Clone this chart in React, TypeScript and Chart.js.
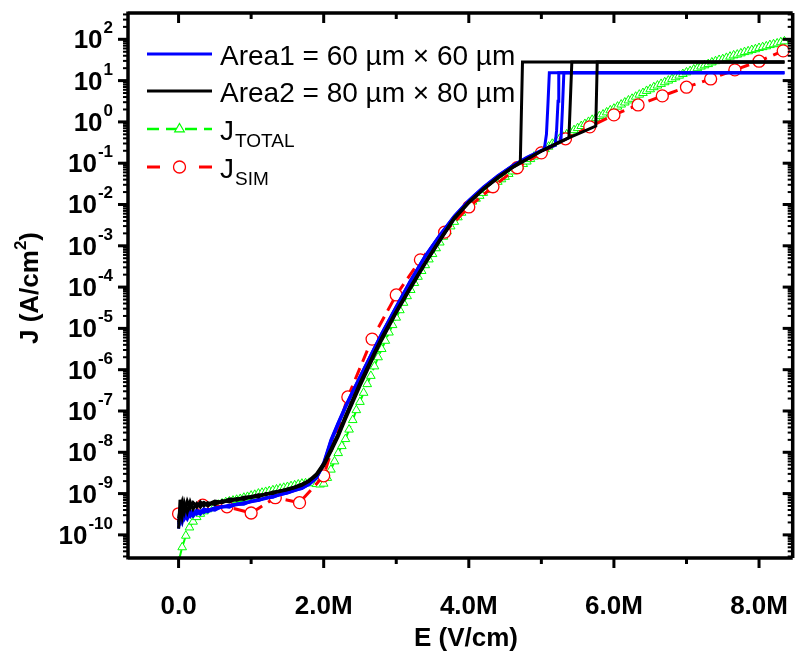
import React, { useEffect, useRef } from "react";
import { Chart, registerables } from "chart.js";

Chart.register(...registerables);

// ---------- DATA (E in MV/cm, J given as log10 of A/cm^2) ----------
const SERIES_NAMES = ["Area1 = 60 \u00b5m \u00d7 60 \u00b5m", "Area2 = 80 \u00b5m \u00d7 80 \u00b5m", "J", "J"];
const SERIES_SUBS = ["", "", "TOTAL", "SIM"];

const X_TICK_VALUES = [0, 2, 4, 6, 8];
const X_TICK_LABELS = ["0.0", "2.0M", "4.0M", "6.0M", "8.0M"];
const X_MINOR_VALUES = [1, 3, 5, 7];
const Y_TICK_EXPONENTS = [2, 1, 0, -1, -2, -3, -4, -5, -6, -7, -8, -9, -10];

const X_TITLE = "E (V/cm)";
const Y_TITLE = "J (A/cm";
const Y_TITLE_SUP = "2";

// shared field grid of the measured curves (MV/cm)
const E_MEAS = [0, 0.02, 0.05, 0.08, 0.12, 0.16, 0.2, 0.25, 0.3, 0.35, 0.4, 0.5, 0.6, 0.7, 0.8, 0.9, 1.0, 1.1, 1.2, 1.3, 1.4, 1.5, 1.6, 1.7, 1.8, 1.9, 2.0, 2.1, 2.2, 2.3, 2.4, 2.5, 2.6, 2.7, 2.8, 3.0, 3.2, 3.4, 3.6, 3.8, 4.0, 4.2, 4.4, 4.6, 4.8, 5.0, 5.2, 5.4, 5.6];

// Area1 (blue) devices
const A1_LOG = [-9.85, -9.55, -9.7, -9.5, -9.62, -9.48, -9.55, -9.44, -9.5, -9.4, -9.44, -9.36, -9.33, -9.3, -9.27, -9.24, -9.2, -9.16, -9.12, -9.08, -9.03, -8.98, -8.93, -8.87, -8.78, -8.62, -8.3, -7.75, -7.33, -6.92, -6.55, -6.2, -5.85, -5.5, -5.15, -4.5, -3.86, -3.26, -2.76, -2.3, -1.92, -1.6, -1.32, -1.08, -0.88, -0.7];
const A1_TAIL_E = [5.04, 5.07, 5.09, 5.11, 8.35];
const A1_TAIL_LOG = [-0.67, -0.3, 0.4, 1.19, 1.19];

const A2_LOG = [-9.6, -9.68, -9.45, -9.62, -9.5, -9.56, -9.45, -9.5, -9.42, -9.46, -9.38, -9.4, -9.31, -9.33, -9.25, -9.26, -9.18, -9.17, -9.1, -9.09, -9.02, -8.99, -8.92, -8.88, -8.77, -8.63, -8.28, -7.72, -7.3, -6.9, -6.53, -6.18, -5.83, -5.48, -5.13, -4.48, -3.84, -3.25, -2.75, -2.29, -1.91, -1.59, -1.31, -1.07, -0.87, -0.7];
const A2_TAIL_E = [5.1, 5.19, 5.21, 5.23, 5.24, 8.35];
const A2_TAIL_LOG = [-0.63, -0.57, -0.2, 0.5, 1.19, 1.19];

const A3_LOG = [-9.75, -9.5, -9.58, -9.44, -9.54, -9.42, -9.48, -9.4, -9.45, -9.37, -9.41, -9.34, -9.32, -9.28, -9.26, -9.22, -9.19, -9.14, -9.11, -9.06, -9.02, -8.96, -8.91, -8.85, -8.76, -8.6, -8.25, -7.7, -7.28, -6.88, -6.52, -6.17, -5.82, -5.47, -5.12, -4.47, -3.83, -3.24, -2.74, -2.28, -1.9, -1.58, -1.3, -1.06, -0.86, -0.69, -0.53];
const A3_TAIL_E = [5.27, 5.29, 5.31, 8.35];
const A3_TAIL_LOG = [-0.46, 0.3, 1.19, 1.19];

// Area2 (black) devices
const B1_LOG = [-9.85, -9.15, -9.55, -9.22, -9.45, -9.2, -9.38, -9.24, -9.33, -9.22, -9.3, -9.2, -9.22, -9.15, -9.16, -9.1, -9.1, -9.05, -9.03, -8.98, -8.95, -8.91, -8.86, -8.8, -8.7, -8.55, -8.3, -7.95, -7.58, -7.15, -6.75, -6.35, -5.98, -5.6, -5.25, -4.6, -4.0, -3.42, -2.87, -2.33, -1.95, -1.63, -1.35, -1.1];
const B1_TAIL_E = [4.71, 4.74, 8.35];
const B1_TAIL_LOG = [-0.97, 1.45, 1.45];

const B2_LOG = [-9.6, -9.4, -9.2, -9.45, -9.18, -9.36, -9.22, -9.33, -9.2, -9.3, -9.22, -9.27, -9.17, -9.2, -9.12, -9.14, -9.07, -9.08, -9.0, -9.0, -8.93, -8.9, -8.85, -8.78, -8.68, -8.52, -8.27, -7.92, -7.55, -7.12, -6.72, -6.32, -5.95, -5.58, -5.22, -4.58, -3.98, -3.4, -2.85, -2.32, -1.94, -1.62, -1.34, -1.1, -0.9, -0.7, -0.53];
const B2_TAIL_E = [5.38, 5.42, 8.35];
const B2_TAIL_LOG = [-0.38, 1.45, 1.45];

const B3_LOG = [-9.7, -9.5, -9.3, -9.35, -9.25, -9.32, -9.22, -9.3, -9.24, -9.22, -9.26, -9.18, -9.21, -9.13, -9.14, -9.09, -9.07, -9.03, -9.02, -8.96, -8.94, -8.89, -8.84, -8.77, -8.69, -8.56, -8.33, -7.98, -7.62, -7.2, -6.8, -6.4, -6.02, -5.64, -5.28, -4.62, -4.02, -3.43, -2.88, -2.35, -1.96, -1.64, -1.36, -1.11, -0.91, -0.71, -0.54, -0.37, -0.22];
const B3_TAIL_E = [5.75, 5.77, 8.35];
const B3_TAIL_LOG = [-0.1, 1.45, 1.45];

// J_SIM (red circles)
const SIM_E = [0, 0.333, 0.667, 1.0, 1.333, 1.667, 2.0, 2.333, 2.667, 3.0, 3.333, 3.667, 4.0, 4.333, 4.667, 5.0, 5.333, 5.667, 6.0, 6.333, 6.667, 7.0, 7.333, 7.667, 8.0, 8.333];
const SIM_LOG = [-9.49, -9.28, -9.32, -9.47, -9.1, -9.22, -8.57, -6.66, -5.26, -4.19, -3.34, -2.67, -2.06, -1.57, -1.11, -0.75, -0.41, -0.12, 0.17, 0.41, 0.63, 0.84, 1.04, 1.26, 1.47, 1.72];

// J_TOTAL (green triangles)
const TOTAL_E = [
  0.0, 0.05, 0.1, 0.15, 0.2, 0.25, 0.3, 0.35, 0.4, 0.45, 0.5, 0.55, 0.6, 0.65, 0.7, 0.75, 0.8, 0.85, 0.9, 0.95,
  1.0, 1.05, 1.1, 1.15, 1.2, 1.25, 1.3, 1.35, 1.4, 1.45, 1.5, 1.55, 1.6, 1.65, 1.7, 1.75, 1.8, 1.85, 1.9, 1.95,
  2.0, 2.05, 2.1, 2.15, 2.2, 2.25, 2.3, 2.35, 2.4, 2.45, 2.5, 2.55, 2.6, 2.65, 2.7, 2.75, 2.8, 2.85, 2.9, 2.95,
  3.0, 3.05, 3.1, 3.15, 3.2, 3.25, 3.3, 3.35, 3.4, 3.45, 3.5, 3.55, 3.6, 3.65, 3.7, 3.75, 3.8, 3.85, 3.9, 3.95,
  4.0, 4.05, 4.1, 4.15, 4.2, 4.25, 4.3, 4.35, 4.4, 4.45, 4.5, 4.55, 4.6, 4.65, 4.7, 4.75, 4.8, 4.85, 4.9, 4.95,
  5.0, 5.05, 5.1, 5.15, 5.2, 5.25, 5.3, 5.35, 5.4, 5.45, 5.5, 5.55, 5.6, 5.65, 5.7, 5.75, 5.8, 5.85, 5.9, 5.95,
  6.0, 6.05, 6.1, 6.15, 6.2, 6.25, 6.3, 6.35, 6.4, 6.45, 6.5, 6.55, 6.6, 6.65, 6.7, 6.75, 6.8, 6.85, 6.9, 6.95,
  7.0, 7.05, 7.1, 7.15, 7.2, 7.25, 7.3, 7.35, 7.4, 7.45, 7.5, 7.55, 7.6, 7.65, 7.7, 7.75, 7.8, 7.85, 7.9, 7.95,
  8.0, 8.05, 8.1, 8.15, 8.2, 8.25, 8.3, 8.35,
];
const TOTAL_LOG = [
  -10.65, -10.3, -10.02, -9.82, -9.68, -9.57, -9.49, -9.43, -9.38, -9.34, -9.3, -9.27, -9.24, -9.21, -9.19, -9.17, -9.15, -9.13, -9.1, -9.08,
  -9.05, -9.03, -9.0, -8.98, -8.96, -8.94, -8.92, -8.9, -8.88, -8.86, -8.84, -8.82, -8.8, -8.78, -8.76, -8.75, -8.74, -8.75, -8.77, -8.78,
  -8.76, -8.62, -8.42, -8.22, -8.02, -7.85, -7.68, -7.45, -7.22, -6.98, -6.78, -6.56, -6.35, -6.15, -5.92, -5.7, -5.5, -5.3, -5.1, -4.92,
  -4.74, -4.56, -4.38, -4.22, -4.07, -3.9, -3.75, -3.61, -3.47, -3.33, -3.2, -3.06, -2.92, -2.78, -2.65, -2.53, -2.42, -2.31, -2.2, -2.1,
  -2.0, -1.93, -1.86, -1.79, -1.72, -1.65, -1.58, -1.52, -1.45, -1.39, -1.33, -1.26, -1.2, -1.14, -1.08, -1.02, -0.96, -0.9, -0.84, -0.78,
  -0.72, -0.66, -0.6, -0.53, -0.47, -0.41, -0.36, -0.3, -0.25, -0.2, -0.15, -0.1, -0.05, 0.0, 0.05, 0.09, 0.14, 0.18, 0.23, 0.28,
  0.32, 0.37, 0.42, 0.47, 0.52, 0.56, 0.61, 0.66, 0.7, 0.75, 0.79, 0.84, 0.88, 0.92, 0.96, 1.0, 1.04, 1.08, 1.12, 1.16,
  1.2, 1.23, 1.27, 1.3, 1.34, 1.37, 1.4, 1.44, 1.47, 1.5, 1.52, 1.55, 1.58, 1.61, 1.63, 1.66, 1.69, 1.71, 1.74, 1.76,
  1.79, 1.81, 1.83, 1.86, 1.88, 1.9, 1.93, 1.95,
];

// ---------- helpers ----------
const BLUE = "#0000ff";
const BLACK = "#000000";
const GREEN = "#00ff00";
const RED = "#ff0000";
const FONT = "'Liberation Sans', Arial, Helvetica, sans-serif";

function measured(logs: number[], tailE: number[], tailLog: number[]) {
  const pts = logs.map((v, i) => ({ x: E_MEAS[i], y: Math.pow(10, v) }));
  tailE.forEach((e, i) => pts.push({ x: e, y: Math.pow(10, tailLog[i]) }));
  return pts;
}
function pairs(es: number[], logs: number[]) {
  return es.map((e, i) => ({ x: e, y: Math.pow(10, logs[i]) }));
}

function drawSup(ctx: CanvasRenderingContext2D, base: string, sup: string, xRight: number, baseline: number, baseFont: string, supFont: string, rise: number) {
  ctx.font = supFont;
  const sw = ctx.measureText(sup).width;
  ctx.font = baseFont;
  const bw = ctx.measureText(base).width;
  ctx.textAlign = "left";
  ctx.textBaseline = "alphabetic";
  ctx.fillText(base, xRight - sw - bw - 1, baseline);
  ctx.font = supFont;
  ctx.fillText(sup, xRight - sw, baseline - rise);
}

const framePlugin = {
  id: "framePlugin",
  afterDatasetsDraw(chart: any) {
    const { ctx, chartArea: ca, scales } = chart;
    const xs = scales.x;
    const ys = scales.y;
    ctx.save();
    ctx.strokeStyle = "#000";
    ctx.fillStyle = "#000";
    ctx.setLineDash([]);

    const tick = (x1: number, y1: number, x2: number, y2: number, w: number) => {
      ctx.lineWidth = w;
      ctx.beginPath();
      ctx.moveTo(x1, y1);
      ctx.lineTo(x2, y2);
      ctx.stroke();
    };
    X_TICK_VALUES.forEach((v) => {
      const px = xs.getPixelForValue(v);
      tick(px, ca.bottom, px, ca.bottom + 10, 3);
      tick(px, ca.top, px, ca.top + 10, 3);
    });
    X_MINOR_VALUES.forEach((v) => {
      const px = xs.getPixelForValue(v);
      tick(px, ca.bottom, px, ca.bottom + 6, 3);
      tick(px, ca.top, px, ca.top + 6, 3);
    });
    for (let k = -11; k <= 2; k++) {
      for (let m = 1; m <= 9; m++) {
        const v = m * Math.pow(10, k);
        if (v < ys.min || v > ys.max) continue;
        const py = ys.getPixelForValue(v);
        const len = m === 1 ? 10 : 5;
        const w = m === 1 ? 3 : 2;
        tick(ca.left, py, ca.left - len, py, w);
        tick(ca.right, py, ca.right - len, py, w);
      }
    }

    // frame
    ctx.lineWidth = 3.5;
    ctx.beginPath();
    ctx.moveTo(ca.left, ca.top);
    ctx.lineTo(ca.right, ca.top);
    ctx.moveTo(ca.right, ca.top);
    ctx.lineTo(ca.right, ca.bottom);
    ctx.moveTo(ca.left, ca.bottom);
    ctx.lineTo(ca.right, ca.bottom);
    ctx.moveTo(ca.left, ca.top - 1.5);
    ctx.lineTo(ca.left, ca.bottom + 1.5);
    ctx.stroke();

    // tick labels
    const tickFont = `bold 26px ${FONT}`;
    const supFont = `bold 17px ${FONT}`;
    ctx.textBaseline = "alphabetic";
    X_TICK_VALUES.forEach((v, i) => {
      ctx.font = tickFont;
      ctx.textAlign = "center";
      ctx.fillText(X_TICK_LABELS[i], xs.getPixelForValue(v), ca.bottom + 56);
    });
    Y_TICK_EXPONENTS.forEach((k) => {
      const py = ys.getPixelForValue(Math.pow(10, k));
      drawSup(ctx, "10", String(k), 113, py + 9, tickFont, supFont, 15);
    });

    // axis titles
    ctx.font = tickFont;
    ctx.textAlign = "center";
    ctx.fillText(X_TITLE, 466, 646);

    ctx.save();
    ctx.translate(38, 288);
    ctx.rotate(-Math.PI / 2);
    ctx.font = tickFont;
    const w1 = ctx.measureText(Y_TITLE).width;
    const w3 = ctx.measureText(")").width;
    ctx.font = supFont;
    const w2 = ctx.measureText(Y_TITLE_SUP).width;
    const total = w1 + w2 + w3;
    ctx.textAlign = "left";
    ctx.font = tickFont;
    ctx.fillText(Y_TITLE, -total / 2, 0);
    ctx.font = supFont;
    ctx.fillText(Y_TITLE_SUP, -total / 2 + w1, -12);
    ctx.font = tickFont;
    ctx.fillText(")", -total / 2 + w1 + w2, 0);
    ctx.restore();

    // legend
    const rowsBase = [65, 102, 140, 178];
    const colors = [BLUE, BLACK, GREEN, RED];
    const lx1 = 147;
    const lx2 = 212;
    const mx = 179.5;
    rowsBase.forEach((b, i) => {
      const ly = b - 11;
      ctx.strokeStyle = colors[i];
      if (i < 2) {
        ctx.setLineDash([]);
        tick(lx1, ly, lx2, ly, 3);
      } else if (i === 2) {
        ctx.setLineDash([12, 7]);
        tick(lx1, ly, lx2, ly, 2.5);
        ctx.setLineDash([]);
        ctx.fillStyle = "#fff";
        ctx.lineWidth = 1.2;
        ctx.beginPath();
        ctx.moveTo(mx, ly - 5.5);
        ctx.lineTo(mx + 4.8, ly + 2.8);
        ctx.lineTo(mx - 4.8, ly + 2.8);
        ctx.closePath();
        ctx.fill();
        ctx.stroke();
      } else {
        ctx.setLineDash([13, 13]);
        tick(lx1, ly, lx2, ly, 3);
        ctx.setLineDash([]);
        ctx.fillStyle = "#fff";
        ctx.lineWidth = 1.3;
        ctx.beginPath();
        ctx.arc(mx, ly, 6, 0, Math.PI * 2);
        ctx.fill();
        ctx.stroke();
      }
      ctx.setLineDash([]);
      ctx.fillStyle = "#000";
      ctx.textAlign = "left";
      ctx.font = `28px ${FONT}`;
      ctx.fillText(SERIES_NAMES[i], 220, b);
      if (SERIES_SUBS[i]) {
        const jw = ctx.measureText(SERIES_NAMES[i]).width;
        ctx.font = `19px ${FONT}`;
        ctx.fillText(SERIES_SUBS[i], 220 + jw + 1, b + 7);
      }
    });

    ctx.restore();
  },
};

export default function App() {
  const canvasRef = useRef<HTMLCanvasElement | null>(null);

  useEffect(() => {
    const canvas = canvasRef.current;
    if (!canvas) return;
    const lineDs = (data: any[], color: string) => ({
      data,
      borderColor: color,
      backgroundColor: color,
      borderWidth: 3,
      pointRadius: 0,
      tension: 0,
      fill: false,
    });
    const chart = new Chart(canvas, {
      type: "line",
      data: {
        datasets: [
          lineDs(measured(B1_LOG, B1_TAIL_E, B1_TAIL_LOG), BLACK),
          lineDs(measured(B2_LOG, B2_TAIL_E, B2_TAIL_LOG), BLACK),
          lineDs(measured(B3_LOG, B3_TAIL_E, B3_TAIL_LOG), BLACK),
          lineDs(measured(A1_LOG, A1_TAIL_E, A1_TAIL_LOG), BLUE),
          lineDs(measured(A2_LOG, A2_TAIL_E, A2_TAIL_LOG), BLUE),
          lineDs(measured(A3_LOG, A3_TAIL_E, A3_TAIL_LOG), BLUE),
          {
            data: pairs(SIM_E, SIM_LOG),
            borderColor: RED,
            backgroundColor: "#ffffff",
            borderWidth: 3,
            borderDash: [12, 7],
            pointStyle: "circle",
            pointRadius: 6,
            pointBorderWidth: 1.3,
            pointBorderColor: RED,
            pointBackgroundColor: "#ffffff",
            tension: 0,
            fill: false,
          },
          {
            data: pairs(TOTAL_E, TOTAL_LOG),
            borderColor: GREEN,
            backgroundColor: "#ffffff",
            borderWidth: 2,
            borderDash: [12, 6],
            pointStyle: "triangle",
            pointRadius: 5,
            pointBorderWidth: 1,
            pointBorderColor: GREEN,
            pointBackgroundColor: "#ffffff",
            tension: 0,
            fill: false,
          },
        ] as any,
      },
      options: {
        responsive: false,
        maintainAspectRatio: false,
        animation: false,
        events: [],
        layout: { padding: { left: 0, right: 1, top: 13, bottom: 0 } },
        plugins: { legend: { display: false }, tooltip: { enabled: false }, title: { display: false } },
        scales: {
          x: {
            type: "linear",
            min: -0.697,
            max: 8.464,
            ticks: { display: false },
            grid: { display: false },
            border: { display: false },
            afterFit: (s: any) => {
              s.height = 94;
            },
          },
          y: {
            type: "logarithmic",
            min: Math.pow(10, -10.56),
            max: Math.pow(10, 2.637),
            ticks: { display: false },
            grid: { display: false },
            border: { display: false },
            afterFit: (s: any) => {
              s.width = 128;
            },
          },
        },
      } as any,
      plugins: [framePlugin],
    });
    return () => chart.destroy();
  }, []);

  return (
    <div style={{ position: "fixed", left: 0, top: 0, width: 800, height: 652, background: "#fff" }}>
      <canvas ref={canvasRef} width={800} height={652} style={{ display: "block", width: 800, height: 652 }} />
    </div>
  );
}
